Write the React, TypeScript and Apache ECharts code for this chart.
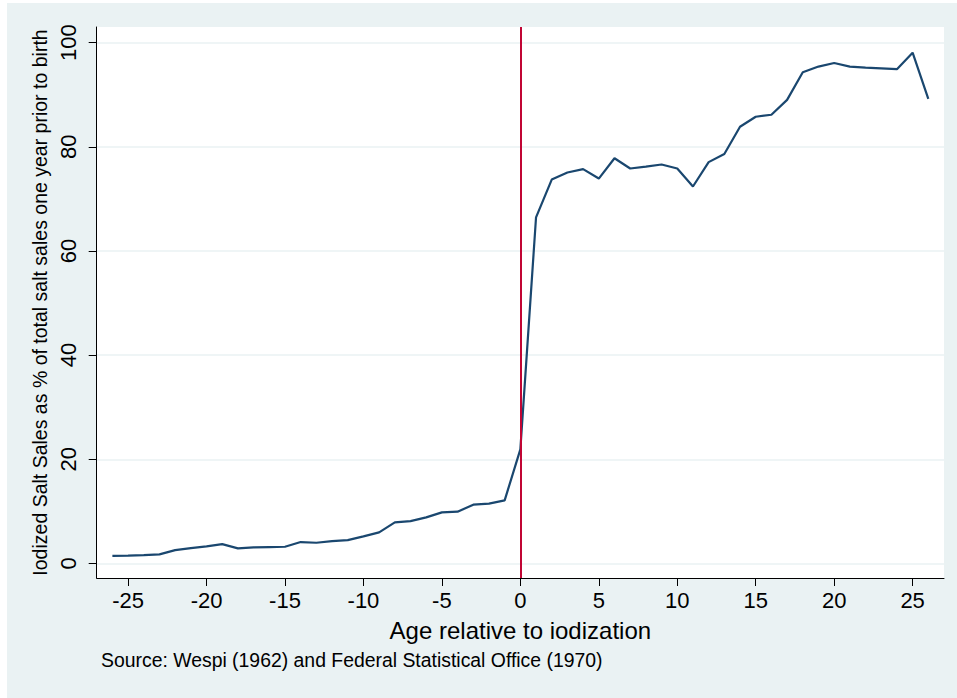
import React, { useEffect, useRef } from "react";
import * as echarts from "echarts";

const ages = [
  -26, -25, -24, -23, -22, -21, -20, -19, -18, -17, -16, -15, -14, -13, -12, -11, -10, -9, -8, -7, -6, -5, -4, -3, -2, -1,
  0, 1, 2, 3, 4, 5, 6, 7, 8, 9, 10, 11, 12, 13, 14, 15, 16, 17, 18, 19, 20, 21, 22, 23, 24, 25, 26,
];
const salesPct = [
  1.46, 1.5, 1.6, 1.73, 2.56, 2.94, 3.26, 3.71, 2.88, 3.07, 3.14, 3.2, 4.1, 3.97, 4.29, 4.48, 5.19, 5.96, 7.88, 8.13,
  8.84, 9.8, 9.93, 11.28, 11.47, 12.1,
  21.9, 66.46, 73.7, 75.06, 75.7, 73.9, 77.8, 75.83, 76.2, 76.6, 75.83, 72.37, 77.05, 78.6, 83.85, 85.77, 86.15, 89.0,
  94.3, 95.4, 96.08, 95.4, 95.2, 95.06, 94.9, 98.07, 89.2,
];
const xTicks = [-25, -20, -15, -10, -5, 0, 5, 10, 15, 20, 25];
const yTicks = [0, 20, 40, 60, 80, 100];
const cutoffAge = 0;
const xTitle = "Age relative to iodization";
const yTitle = "Iodized Salt Sales as % of total salt sales one year prior to birth";
const sourceNote = "Source: Wespi (1962) and Federal Statistical Office (1970)";

const FONT = "'Liberation Sans', Arial, Helvetica, sans-serif";

export default function App() {
  const ref = useRef<HTMLDivElement>(null);
  useEffect(() => {
    if (!ref.current) return;
    const chart = echarts.init(ref.current, null, { renderer: "svg" });
    const data = ages.map((a, i) => [a, salesPct[i]]);
    chart.setOption({
      animation: false,
      backgroundColor: "#eaf2f3",
      textStyle: { fontFamily: FONT },
      grid: {
        left: 89.7,
        top: 24,
        right: 13,
        bottom: 120,
        show: true,
        backgroundColor: "#ffffff",
        borderWidth: 0,
      },
      xAxis: {
        type: "value",
        min: -27,
        max: 27,
        axisLine: { show: true, onZero: false, lineStyle: { color: "#000", width: 1 } },
        axisTick: { show: true, customValues: xTicks, length: 8, lineStyle: { color: "#000", width: 1 } },
        axisLabel: { customValues: xTicks, fontSize: 22, color: "#000", margin: 11, fontFamily: FONT },
        splitLine: { show: false },
        name: xTitle,
        nameLocation: "middle",
        nameGap: 40,
        nameTextStyle: { fontSize: 24, color: "#000", fontFamily: FONT },
      },
      yAxis: {
        type: "value",
        min: -2.8,
        max: 103,
        axisLine: { show: true, onZero: false, lineStyle: { color: "#000", width: 1 } },
        axisTick: { show: true, customValues: yTicks, length: 8, lineStyle: { color: "#000", width: 1 } },
        axisLabel: { customValues: yTicks, fontSize: 22, color: "#000", margin: 17, rotate: 90, fontFamily: FONT },
        splitLine: { show: true, lineStyle: { color: "#eaf2f3", width: 1.5 } },
        name: yTitle,
        nameLocation: "middle",
        nameGap: 47,
        nameTextStyle: { fontSize: 19.5, color: "#000", fontFamily: FONT },
      },
      graphic: [
        {
          type: "text",
          left: 94,
          top: 647,
          style: { text: sourceNote, fontSize: 19.4, fill: "#000", fontFamily: FONT },
        },
      ],
      series: [
        {
          type: "line",
          data,
          showSymbol: false,
          symbol: "none",
          lineStyle: { color: "#1a476f", width: 2.2 },
          markLine: {
            silent: true,
            symbol: "none",
            label: { show: false },
            lineStyle: { color: "#c10534", width: 2, type: "solid" },
            data: [{ xAxis: cutoffAge }],
          },
        },
      ],
    });
    return () => chart.dispose();
  }, []);
  return (
    <div
      ref={ref}
      style={{ position: "absolute", left: 7, top: 3, width: 950, height: 695, background: "#eaf2f3" }}
    />
  );
}
